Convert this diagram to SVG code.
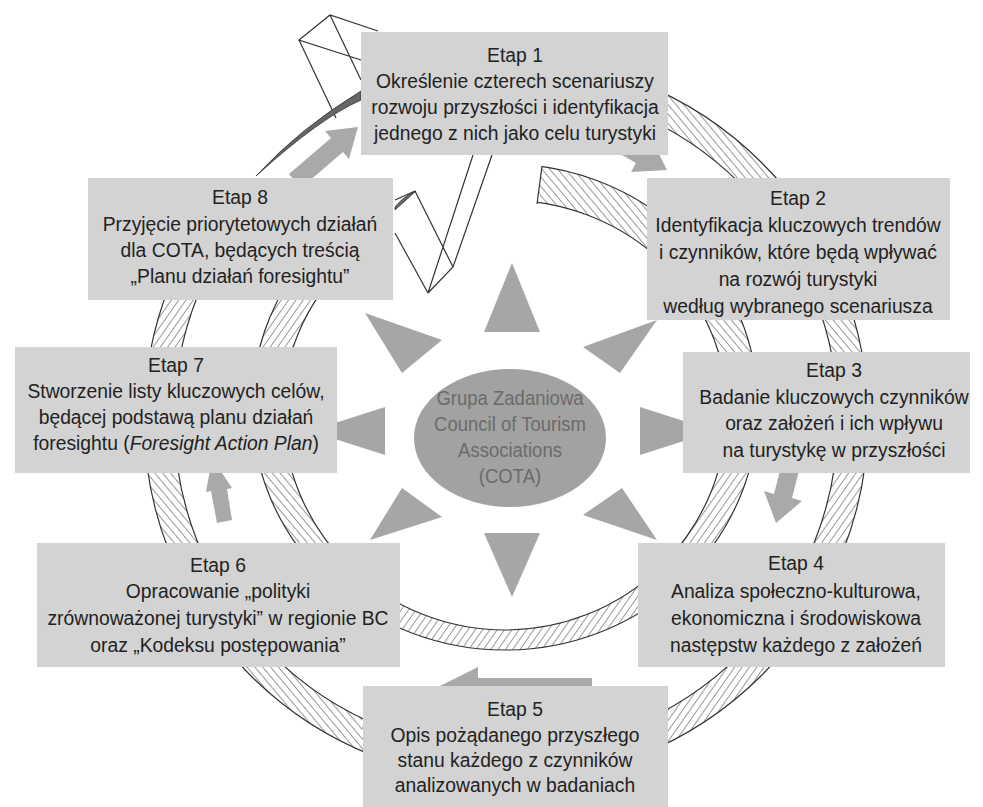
<svg xmlns="http://www.w3.org/2000/svg" width="983" height="807" viewBox="0 0 983 807">
<style>
.box{fill:#d3d3d3}
.t{font-family:"Liberation Sans",Arial,sans-serif;font-size:21px;fill:#222;text-anchor:middle}
.ct{font-family:"Liberation Sans",Arial,sans-serif;font-size:19.5px;fill:#6b6b6b;text-anchor:middle}
.edge{fill:none;stroke:#333;stroke-width:1.2}
.ln{fill:none;stroke:#333;stroke-width:1.2}
.arr{fill:#a9a9a9}
.tri{fill:#a6a6a6}
</style>
<defs>
<pattern id="hA" width="6" height="6" patternUnits="userSpaceOnUse" patternTransform="rotate(35)">
<rect width="6" height="6" fill="#fff"/>
<line x1="0" y1="0" x2="0" y2="6" stroke="#333" stroke-width="1"/>
</pattern>
<pattern id="hB" width="6" height="6" patternUnits="userSpaceOnUse" patternTransform="rotate(-40)">
<rect width="6" height="6" fill="#fff"/>
<line x1="0" y1="0" x2="0" y2="6" stroke="#333" stroke-width="1"/>
</pattern>
<path id="ringOuter" fill-rule="evenodd" d="M144,419 a362,362 0 1,0 724,0 a362,362 0 1,0 -724,0 Z M174,419 a332,332 0 1,0 664,0 a332,332 0 1,0 -664,0 Z"/>
<path id="ringInner" fill-rule="evenodd" d="M252,407 a253,243 0 1,0 506,0 a253,243 0 1,0 -506,0 Z M283,410 A222,210 0 0,1 727,410 A222,220 0 0,1 283,410 Z"/>
<clipPath id="clipOuter"><path d="M0,178 L361,178 L361,0 L983,0 L983,807 L0,807 Z"/></clipPath>
<clipPath id="clipInner"><path clip-rule="evenodd" d="M0,0 H983 V807 H0 Z M393,0 L546,0 L542,166 L537,204 L530,320 L393,320 Z"/></clipPath>
<clipPath id="regB"><path d="M0,420 H362 V807 H0 Z M540,0 H983 V420 H540 Z"/></clipPath>
</defs>
<rect width="983" height="807" fill="#fff"/>

<g id="connectors">
<g clip-path="url(#clipOuter)">
<use href="#ringOuter" fill="url(#hA)"/>
<g clip-path="url(#regB)"><use href="#ringOuter" fill="url(#hB)"/></g>
<use href="#ringOuter" class="edge"/>
</g>
<g clip-path="url(#clipInner)">
<use href="#ringInner" fill="url(#hA)"/>
<g clip-path="url(#regB)"><use href="#ringInner" fill="url(#hB)"/></g>
<use href="#ringInner" class="edge"/>
</g>
<line class="ln" x1="542" y1="166" x2="537" y2="204"/>
<path class="ln" d="M473,155 L428,293 L453,267 L492,155 M415,191 L453,267 M395,233 L428,293 M395,200 L415,191"/>
<path d="M395,207 Q404,196 416,191 Q406,200 395,210 Z" fill="#666" stroke="#333" stroke-width="0.8"/>
<path class="ln" d="M378,31 L330,15 L299,40 L361,60 M330,15 L361,80 M299,40 L336,118"/>
<path d="M256,176 Q300,128 361,91 L361,100 Q320,118 256,176 Z" fill="#666" stroke="#333" stroke-width="0.8"/>
<polygon class="arr" points="358,127 325,131 331,138 289,174 301,188 343,152 349,159"/>
<polygon class="arr" points="667,170 631,172 636,163 601,143 610,127 646,147 651,138"/>
<polygon class="arr" points="776,523 764,491 774,494 784,455 802,459 792,498 802,501"/>
<polygon class="arr" points="440,686 478,667 478,678 592,678 592,694 478,694 478,705"/>
<polygon class="arr" points="212,458 232,488 227,489 232,520 217,523 211,491 206,492"/>
</g>

<g id="cota">
<polygon class="tri" points="512,263 484,332 540,332"/>
<polygon class="tri" points="484,533 540,533 512,597"/>
<polygon class="tri" points="310,431 385,407 385,455"/>
<polygon class="tri" points="715,431 640,407 640,455"/>
<polygon class="tri" points="365,313 442,340 402,373"/>
<polygon class="tri" points="657,320 583,347 620,373"/>
<polygon class="tri" points="402,488 442,517 370,540"/>
<polygon class="tri" points="583,515 622,488 657,540"/>
<ellipse cx="510" cy="438" rx="96" ry="69" fill="#a2a2a2"/>
<g transform="translate(510,0) scale(0.95,1)">
<text class="ct" x="0" y="405">Grupa Zadaniowa</text>
<text class="ct" x="0" y="431">Council of Tourism</text>
<text class="ct" x="0" y="457">Associations</text>
<text class="ct" x="0" y="483">(COTA)</text>
</g>
</g>

<g id="etap1">
<rect class="box" x="361" y="32" width="307" height="123"/>
<g transform="translate(515,0) scale(0.92,1)">
<text class="t" x="0" y="62">Etap 1</text>
<text class="t" x="0" y="88">Określenie czterech scenariuszy</text>
<text class="t" x="0" y="114">rozwoju przyszłości i identyfikacja</text>
<text class="t" x="0" y="140">jednego z nich jako celu turystyki</text>
</g>
</g>

<g id="etap2">
<rect class="box" x="647" y="178" width="303" height="142"/>
<g transform="translate(798,0) scale(0.92,1)">
<text class="t" x="0" y="205">Etap 2</text>
<text class="t" x="0" y="232">Identyfikacja kluczowych trendów</text>
<text class="t" x="0" y="259">i czynników, które będą wpływać</text>
<text class="t" x="0" y="286">na rozwój turystyki</text>
<text class="t" x="0" y="313">według wybranego scenariusza</text>
</g>
</g>

<g id="etap3">
<rect class="box" x="683" y="352" width="287" height="121"/>
<g transform="translate(834,0) scale(0.92,1)">
<text class="t" x="0" y="377">Etap 3</text>
<text class="t" x="0" y="404">Badanie kluczowych czynników</text>
<text class="t" x="0" y="430">oraz założeń i ich wpływu</text>
<text class="t" x="0" y="457">na turystykę w przyszłości</text>
</g>
</g>

<g id="etap4">
<rect class="box" x="638" y="543" width="307" height="124"/>
<g transform="translate(796,0) scale(0.92,1)">
<text class="t" x="0" y="570">Etap 4</text>
<text class="t" x="0" y="598">Analiza społeczno-kulturowa,</text>
<text class="t" x="0" y="625">ekonomiczna i środowiskowa</text>
<text class="t" x="0" y="652">następstw każdego z założeń</text>
</g>
</g>

<g id="etap5">
<rect class="box" x="363" y="686" width="305" height="121"/>
<g transform="translate(515,0) scale(0.92,1)">
<text class="t" x="0" y="716">Etap 5</text>
<text class="t" x="0" y="742">Opis pożądanego przyszłego</text>
<text class="t" x="0" y="767">stanu każdego z czynników</text>
<text class="t" x="0" y="792">analizowanych w badaniach</text>
</g>
</g>

<g id="etap6">
<rect class="box" x="37" y="543" width="363" height="124"/>
<g transform="translate(218,0) scale(0.92,1)">
<text class="t" x="0" y="572">Etap 6</text>
<text class="t" x="0" y="598">Opracowanie „polityki</text>
<text class="t" x="0" y="625">zrównoważonej turystyki” w regionie BC</text>
<text class="t" x="0" y="652">oraz „Kodeksu postępowania”</text>
</g>
</g>

<g id="etap7">
<rect class="box" x="15" y="347" width="322" height="126"/>
<g transform="translate(176,0) scale(0.92,1)">
<text class="t" x="0" y="372">Etap 7</text>
<text class="t" x="0" y="398">Stworzenie listy kluczowych celów,</text>
<text class="t" x="0" y="424">będącej podstawą planu działań</text>
<text class="t" x="0" y="450">foresightu (<tspan font-style="italic">Foresight Action Plan</tspan>)</text>
</g>
</g>

<g id="etap8">
<rect class="box" x="88" y="178" width="305" height="122"/>
<g transform="translate(240,0) scale(0.92,1)">
<text class="t" x="0" y="204">Etap 8</text>
<text class="t" x="0" y="231">Przyjęcie priorytetowych działań</text>
<text class="t" x="0" y="257">dla COTA, będących treścią</text>
<text class="t" x="0" y="283">„Planu działań foresightu”</text>
</g>
</g>
</svg>
